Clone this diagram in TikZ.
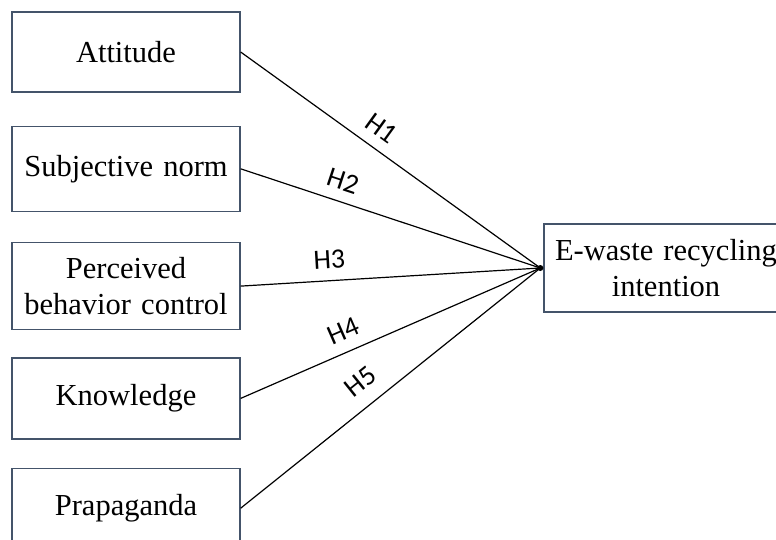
\documentclass[tikz,border=0pt]{standalone}
\usepackage{fontspec}
\setmainfont{Liberation Serif}
\newfontfamily\hypfont{Carlito}
\usepackage{tikz}
\usetikzlibrary{positioning}
\definecolor{boxline}{HTML}{44546A}

\begin{document}
\begin{tikzpicture}[
    x=1pt, y=-1pt,
    node distance=30pt,
    construct/.style={rectangle, draw=boxline, line width=1.3pt, fill=white, text width=228pt, minimum width=228pt, align=center, inner sep=0pt, font=\fontsize{30.5}{36}\selectfont},
    link/.style={draw, line width=1.2pt},
    hyp/.style={font=\hypfont\fontsize{28}{30}\selectfont, sloped, above=10pt, inner sep=1pt}
]
\clip[use as bounding box] (0,0) rectangle (776,539);

% Predictors (left column)
\node[construct, minimum height=80pt] (att) at (126,52) {Attitude};
\node[construct, minimum height=85pt, below=33pt of att] (sn) {Subjective norm};
\node[construct, minimum height=87pt, below=30pt of sn] (pbc) {Perceived\\behavior control};
\node[construct, minimum height=81pt, below=27pt of pbc] (know) {Knowledge};
\node[construct, minimum height=80pt, below=28pt of know] (prop) {Prapaganda};

% Outcome
\node[construct, text width=244pt, minimum width=244pt, minimum height=88pt] (intent) at (666,268) {E-waste recycling\\intention};
\coordinate (meet) at ([xshift=-3pt]intent.west);

% Hypotheses
\draw[link] (att.east) -- node[hyp, pos=.43] {H1} (meet);
\draw[link] (sn.east) -- node[hyp, pos=.32] {H2} (meet);
\draw[link] (pbc.east) -- node[hyp, pos=.30] {H3} (meet);
\draw[link] (know.east) -- node[hyp, pos=.37] {H4} (meet);
\draw[link] (prop.east) -- node[hyp, above=13pt, pos=.45] {H5} (meet);
\fill (meet) circle (3pt);

\end{tikzpicture}
\end{document}
